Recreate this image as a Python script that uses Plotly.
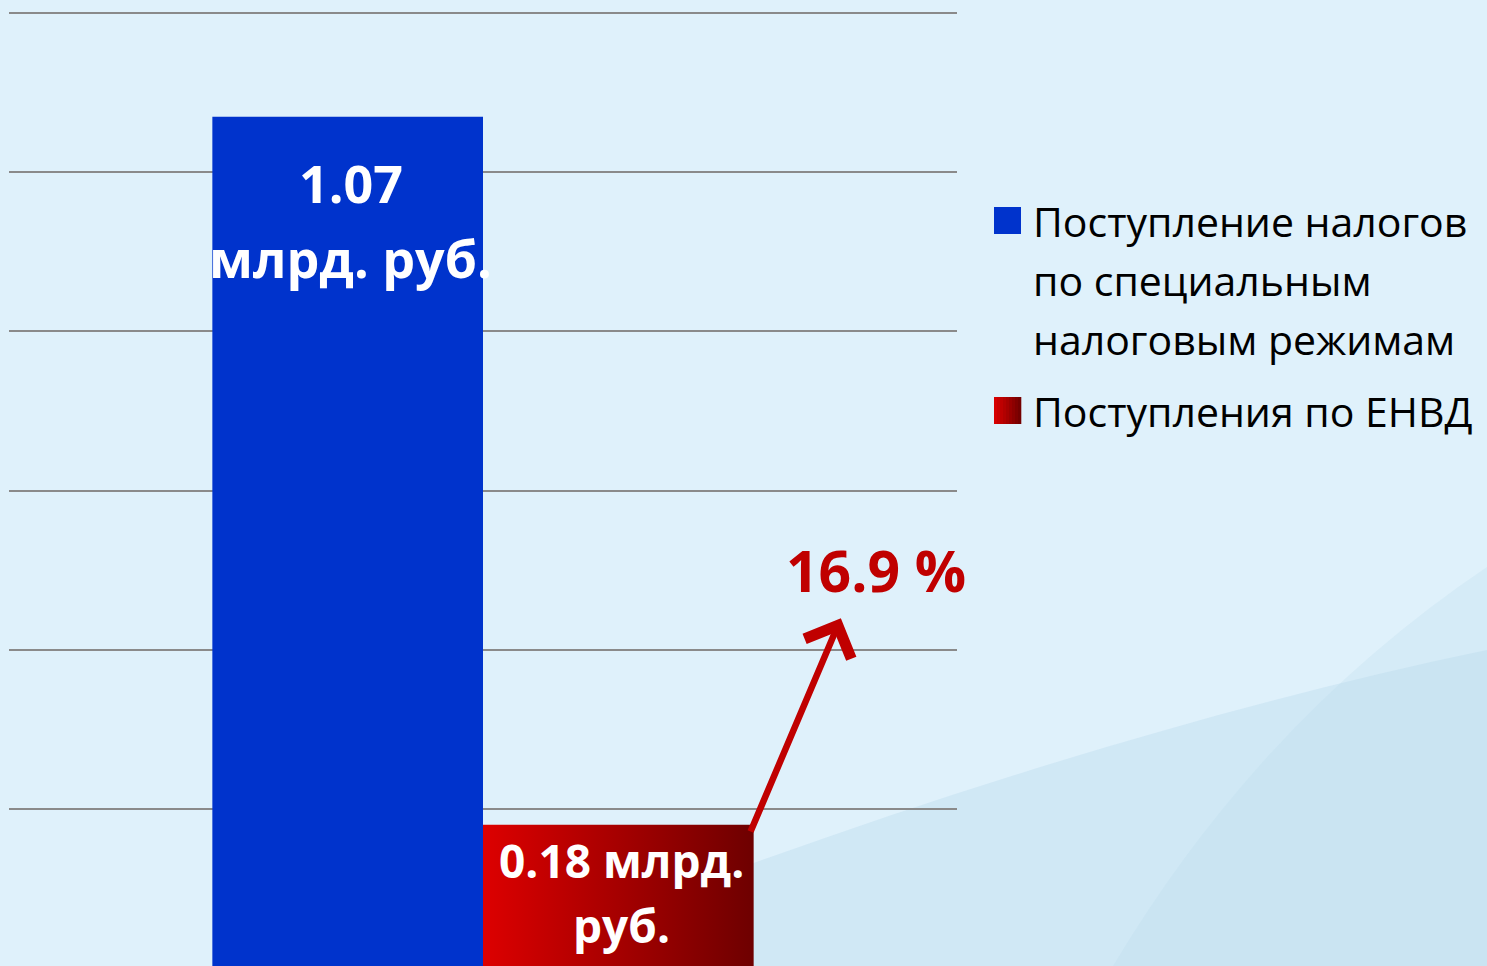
import plotly.graph_objects as go

# ---- data ----
series_names = ["Поступление налогов", "Поступления по ЕНВД"]
legend_lines = [["Поступление налогов", "по специальным", "налоговым режимам"],
                ["Поступления по ЕНВД"]]
values = [1.07, 0.18]
bar_label_lines = [["1.07", "млрд. руб."], ["0.18 млрд.", "руб."]]
share_label = "16.9 %"
y_ticks = [0, 0.2, 0.4, 0.6, 0.8, 1.0, 1.2]

# ---- style ----
BLUE = "#0033cc"
RED_L, RED_R = "#dd0000", "#6e0000"
BG = "#dff1fb"
FONT = "Open Sans"
W = 0.2855  # bar width in axis units
offsets = [-W, 0.0]

W_PX, H_PX = 1487, 966
ML, MR, MT, MB = 9, 530, 12, 0
plot_w = W_PX - ML - MR
plot_h = H_PX - MT - MB


def px(xp, yp):
    """pixel -> paper coordinates (decoration only)"""
    return (xp - ML) / plot_w, (H_PX - MB - yp) / plot_h


def path(points, close=True):
    s = ""
    for cmd, pts in points:
        coords = " ".join("%.4f,%.4f" % px(a, b) for a, b in pts)
        s += f"{cmd}{coords} "
    return s + ("Z" if close else "")


fig = go.Figure()

# gradient fill for the ENVD bar
v = values[1]
fig.add_trace(go.Scatter(
    x=[offsets[1], offsets[1] + W, offsets[1] + W, offsets[1], offsets[1]],
    y=[0, 0, v, v, 0],
    mode="lines", fill="toself", line=dict(width=0),
    fillgradient=dict(type="horizontal",
                      colorscale=[[0, RED_L], [1, RED_R]]),
    hoverinfo="skip", showlegend=False,
))

fig.add_trace(go.Bar(
    x=[0], y=[values[0]], width=[W], offset=offsets[0],
    marker=dict(color=BLUE, line=dict(width=0)),
    name=series_names[0], showlegend=False,
))
fig.add_trace(go.Bar(
    x=[0], y=[values[1]], width=[W], offset=offsets[1],
    marker=dict(color="rgba(0,0,0,0)", line=dict(width=0)),
    name=series_names[1], showlegend=False,
))

annotations = []
# blue bar labels: near the top
for i, line in enumerate(bar_label_lines[0]):
    annotations.append(dict(
        x=offsets[0] + W / 2, y=values[0], xref="x", yref="y",
        text=f"<b>{line}</b>", showarrow=False,
        font=dict(family=FONT, size=52, color="white"),
        xanchor="center", yanchor="middle", yshift=-66 - 75 * i, xshift=3,
    ))
# red bar labels: inside, below top
for i, line in enumerate(bar_label_lines[1]):
    annotations.append(dict(
        x=offsets[1] + W / 2, y=values[1], xref="x", yref="y",
        text=f"<b>{line}</b>", showarrow=False,
        font=dict(family=FONT, size=46, color="white"),
        xanchor="center", yanchor="middle", yshift=-35 - 65 * i, xshift=3,
    ))

# arrow
annotations.append(dict(
    x=0.3775, y=0.4395, xref="x", yref="y",
    ax=0.2816, ay=0.1696, axref="x", ayref="y",
    text="", showarrow=True, arrowhead=4, arrowsize=1.5,
    arrowwidth=6.5, arrowcolor="#c00000",
))
annotations.append(dict(
    x=0.415, y=0.5, xref="x", yref="y",
    text=f"<b>{share_label}</b>", showarrow=False,
    font=dict(family=FONT, size=57, color="#c00000"),
    xanchor="center", yanchor="middle",
))

# manual legend
leg_font = dict(family=FONT, size=41, color="black")
line_ys = [[221, 280, 339], [411]]
for s, lines in enumerate(legend_lines):
    for j, t in enumerate(lines):
        xp_, yp_ = px(1031, line_ys[s][j])
        annotations.append(dict(
            x=xp_, y=yp_, xref="paper", yref="paper", text=t,
            showarrow=False, font=leg_font, xanchor="left", yanchor="middle",
        ))

shapes = []
# background swooshes
shapes.append(dict(type="path", xref="paper", yref="paper", layer="below",
                   path=path([("M", [(480, 966)]),
                              ("C", [(800, 840), (1150, 720), (1487, 650)]),
                              ("L", [(1487, 966)])]),
                   fillcolor="rgba(180,215,235,0.35)", line=dict(width=0)))
shapes.append(dict(type="path", xref="paper", yref="paper", layer="below",
                   path=path([("M", [(1113, 966)]),
                              ("Q", [(1260, 720), (1487, 567)]),
                              ("L", [(1487, 966)])]),
                   fillcolor="rgba(180,215,235,0.23)", line=dict(width=0)))

# legend swatches
x0, y0 = px(994, 234)
x1, y1 = px(1021, 207)
shapes.append(dict(type="rect", xref="paper", yref="paper", x0=x0, x1=x1, y0=y0, y1=y1,
                   fillcolor=BLUE, line=dict(width=0)))
n = 9


def mix(c1, c2, t):
    a = [int(c1[i:i + 2], 16) for i in (1, 3, 5)]
    b = [int(c2[i:i + 2], 16) for i in (1, 3, 5)]
    return "rgb(%d,%d,%d)" % tuple(round(a[k] + (b[k] - a[k]) * t) for k in range(3))


for k in range(n):
    xa, ya = px(994 + 27 * k / n, 424)
    xb, yb = px(994 + 27 * (k + 1) / n + 0.3, 397)
    shapes.append(dict(type="rect", xref="paper", yref="paper", x0=xa, x1=xb, y0=ya, y1=yb,
                       fillcolor=mix(RED_L, RED_R, (k + 0.5) / n), line=dict(width=0)))

fig.update_layout(
    width=W_PX, height=H_PX,
    margin=dict(l=ML, r=MR, t=MT, b=MB, pad=0),
    paper_bgcolor=BG, plot_bgcolor="rgba(0,0,0,0)",
    barmode="overlay", showlegend=False,
    xaxis=dict(range=[-0.5, 0.5], visible=False, fixedrange=True),
    yaxis=dict(range=[0.0025, 1.2015], tickvals=y_ticks, showticklabels=False,
               showgrid=True, gridcolor="#8a8a8a", gridwidth=2,
               zeroline=False, showline=False, fixedrange=True),
    annotations=annotations, shapes=shapes,
    font=dict(family=FONT),
)

fig.write_html(
    "out.html",
    config={"displayModeBar": False},
    post_script="document.body.style.margin='0';document.body.style.overflow='hidden';",
)
